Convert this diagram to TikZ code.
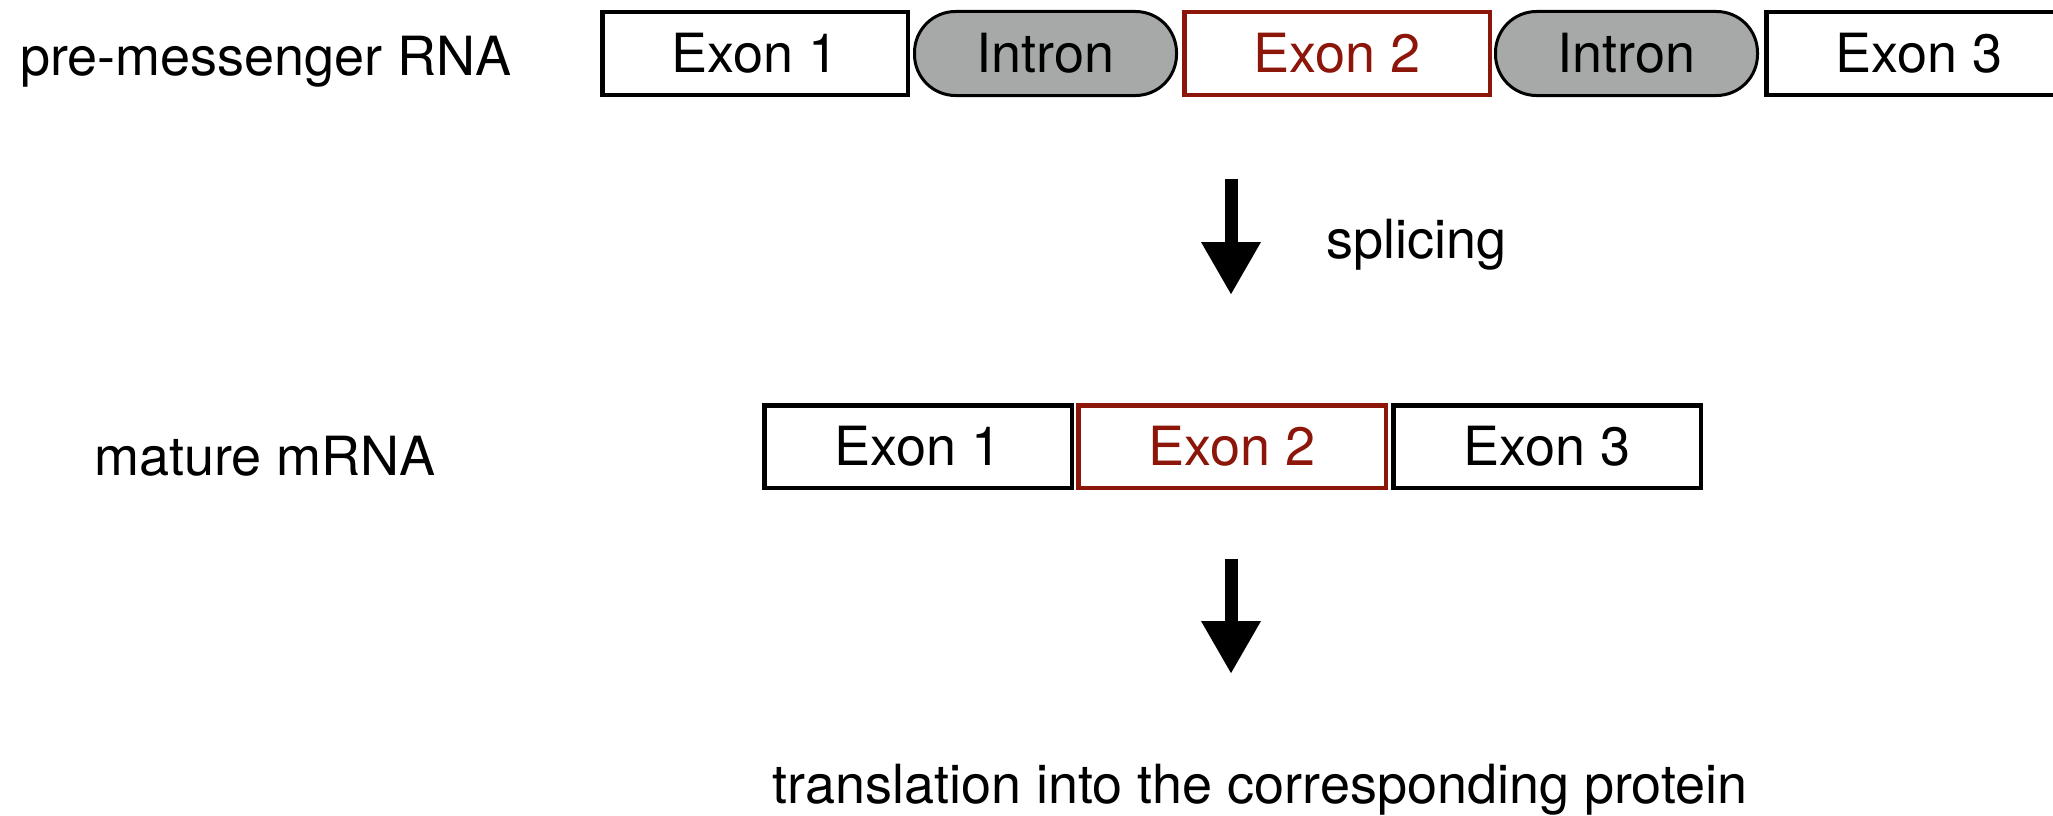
\documentclass[tikz,border=0pt]{standalone}
\usepackage{fontspec}
\setmainfont{TeX Gyre Heros}
\usepackage{tikz}
\usetikzlibrary{arrows.meta}

\definecolor{exonred}{RGB}{140,22,10}
\definecolor{introngray}{RGB}{166,169,167}

\tikzset{
  exon/.style={draw=black, line width=4.5pt, minimum width=305.5pt, minimum height=82.5pt, inner sep=0pt, fill=white},
  redexon/.style={exon, draw=exonred, text=exonred},
  intron/.style={draw=black, line width=3pt, fill=introngray, rounded corners=41pt, minimum width=262pt, minimum height=84pt, inner sep=0pt},
  bigarrow/.style={line width=13pt, -{Triangle[length=53pt, width=56pt]}},
  label/.style={inner sep=0pt}
}

\begin{document}
\begin{tikzpicture}[x=1pt, y=-1pt, font=\fontsize{54}{64}\selectfont]
\useasboundingbox (0,0) rectangle (2053,816);
\clip (0,0) rectangle (2053,816);

% pre-messenger RNA
\node[label, anchor=base west] (pre) at (20,76) {pre-messenger RNA};
\node[exon] (preA) at (755,53.5) {Exon 1};
\node[intron] (intA) at (1045.5,53.5) {Intron};
\node[redexon] (preB) at (1337,53.5) {Exon 2};
\node[intron] (intB) at (1626.5,53.5) {Intron};
\node[exon] (preC) at (1919,53.5) {Exon 3};

% splicing
\coordinate (splA) at (1231,179);
\coordinate (splB) at (1231,295);
\draw[bigarrow] (splA) -- (splB);
\node[label, anchor=base west] (splice) at (1326,258) {splicing};

% mature mRNA
\node[label, anchor=base west] (mat) at (94,475) {mature mRNA};
\node[exon, minimum width=307.5pt] (matA) at (918,446.5) {Exon 1};
\node[redexon, minimum width=307.5pt] (matB) at (1232,446.5) {Exon 2};
\node[exon, minimum width=307.5pt] (matC) at (1547,446.5) {Exon 3};

% translation
\coordinate (trA) at (1231,559);
\coordinate (trB) at (1231,674);
\draw[bigarrow] (trA) -- (trB);
\node[label, anchor=base] (trans) at (1260,803) {translation into the corresponding protein};

\end{tikzpicture}
\end{document}
